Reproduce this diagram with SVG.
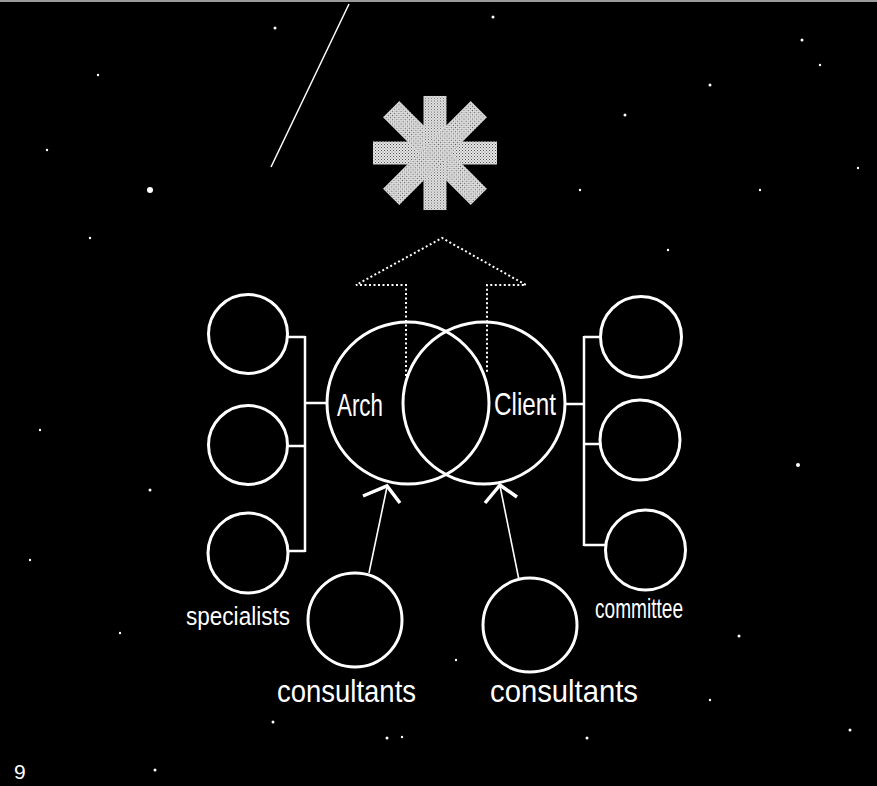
<svg xmlns="http://www.w3.org/2000/svg" width="877" height="786" viewBox="0 0 877 786">
<style>
.c{fill:none;stroke:#fff;stroke-width:3}
.ln{fill:none;stroke:#fff;stroke-width:2.5}
.ar{fill:none;stroke:#fff;stroke-width:1.6}
.ah{fill:none;stroke:#fff;stroke-width:3.5;stroke-linecap:butt}
.dot{fill:none;stroke:#fff;stroke-width:2;stroke-dasharray:2 2.5}
.t{fill:#fff;font-family:"Liberation Sans","DejaVu Sans",sans-serif}
.sp{fill:#fff}
</style>
<defs>
<pattern id="ht" width="3" height="3" patternUnits="userSpaceOnUse">
<rect width="3" height="3" fill="#e6e6e6"/>
<rect x="0" y="0" width="1" height="1" fill="#555"/>
<rect x="1.5" y="1.5" width="1" height="1" fill="#777"/>
</pattern>
<rect id="bar" x="-62" y="-11.5" width="124" height="23"/>
</defs>
<rect width="877" height="786" fill="#000"/>
<rect x="0" y="0" width="877" height="2" fill="#9a9a9a"/>
<line x1="349" y1="4" x2="271" y2="167" stroke="#fff" stroke-width="1.5"/>

<g id="asterisk" fill="url(#ht)" transform="translate(435 153)">
<use href="#bar"/>
<use href="#bar" transform="rotate(45)"/>
<use href="#bar" transform="rotate(90) scale(0.92 1)"/>
<use href="#bar" transform="rotate(135)"/>
</g>

<g id="connectors">
<path class="dot" d="M406 376 V285 H356 L442 238 L526 285 H487 V374"/>
<path class="ln" d="M287 337 H305 M287 446 H305 M288 551 H305 M305 336 V552 M305 403 H327"/>
<path class="ln" d="M600 337 H584 M599 444 H584 M605 545 H584 M584 336 V546 M565 404 H584"/>
<line class="ar" x1="369" y1="573" x2="387" y2="487"/>
<path class="ah" d="M363 496 L387 486 L400 503"/>
<line class="ar" x1="519" y1="580" x2="500" y2="486"/>
<path class="ah" d="M485 503 L500 485 L517 497"/>
</g>

<g id="arch"><circle class="c" cx="408" cy="403" r="81"/>
<text class="t" x="337" y="416" font-size="32" textLength="46" lengthAdjust="spacingAndGlyphs">Arch</text></g>
<g id="client"><circle class="c" cx="484" cy="403" r="81"/>
<text class="t" x="494" y="415" font-size="32" textLength="62" lengthAdjust="spacingAndGlyphs">Client</text></g>

<g id="specialist-1"><circle class="c" cx="248" cy="334" r="39.5"/></g>
<g id="specialist-2"><circle class="c" cx="248" cy="445" r="39.5"/></g>
<g id="specialist-3"><circle class="c" cx="248" cy="553" r="40"/></g>
<g id="specialists-label"><text class="t" x="186" y="625" font-size="25" textLength="104" lengthAdjust="spacingAndGlyphs">specialists</text></g>

<g id="committee-1"><circle class="c" cx="641" cy="337" r="40.5"/></g>
<g id="committee-2"><circle class="c" cx="640" cy="440" r="40"/></g>
<g id="committee-3"><circle class="c" cx="645.5" cy="550" r="40"/></g>
<g id="committee-label"><text class="t" x="595" y="618" font-size="28" textLength="88" lengthAdjust="spacingAndGlyphs">committee</text></g>

<g id="consultants-left"><circle class="c" cx="355" cy="620" r="47"/>
<text class="t" x="277" y="702" font-size="32" textLength="139" lengthAdjust="spacingAndGlyphs">consultants</text></g>
<g id="consultants-right"><circle class="c" cx="530" cy="625" r="47"/>
<text class="t" x="490" y="702" font-size="32" textLength="148" lengthAdjust="spacingAndGlyphs">consultants</text></g>

<text class="t" x="14" y="779" font-size="21">9</text>

<g id="specks" class="sp">
<circle cx="150" cy="190" r="3"/><circle cx="98" cy="75" r="1.2"/><circle cx="275" cy="28" r="1.5"/>
<circle cx="493" cy="17" r="1.5"/><circle cx="625" cy="115" r="1.5"/><circle cx="802" cy="40" r="1.5"/>
<circle cx="820" cy="65" r="1.2"/><circle cx="858" cy="168" r="1.2"/><circle cx="760" cy="190" r="1.2"/>
<circle cx="40" cy="430" r="1.2"/><circle cx="150" cy="490" r="1.5"/><circle cx="90" cy="238" r="1.2"/>
<circle cx="798" cy="465" r="2"/><circle cx="850" cy="730" r="1.5"/><circle cx="739" cy="636" r="1.5"/>
<circle cx="120" cy="633" r="1.2"/><circle cx="155" cy="770" r="1.5"/><circle cx="273" cy="722" r="1.5"/>
<circle cx="387" cy="738" r="1.5"/><circle cx="402" cy="737" r="1.2"/><circle cx="587" cy="738" r="1.5"/>
<circle cx="456" cy="660" r="1.2"/><circle cx="710" cy="700" r="1.2"/><circle cx="668" cy="250" r="1.2"/>
<circle cx="580" cy="190" r="1.2"/><circle cx="30" cy="560" r="1.2"/><circle cx="47" cy="150" r="1.2"/>
<circle cx="710" cy="85" r="1.5"/>
</g>
</svg>
